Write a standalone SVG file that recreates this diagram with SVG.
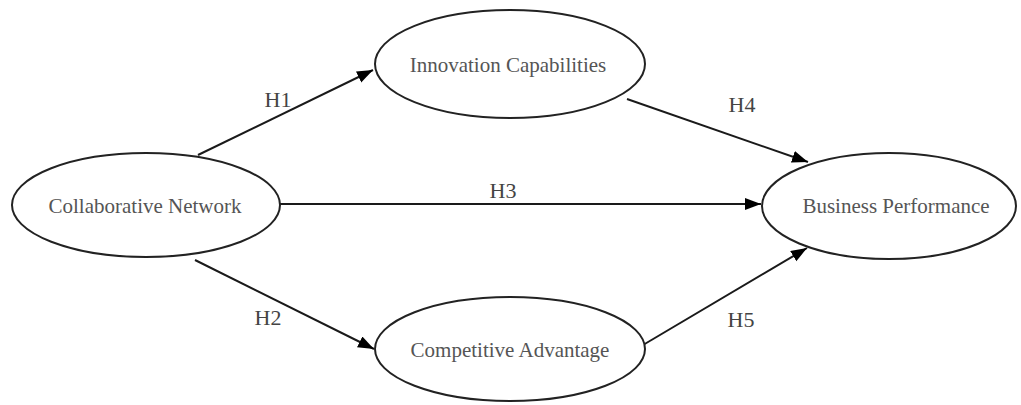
<svg xmlns="http://www.w3.org/2000/svg" width="1021" height="405" viewBox="0 0 1021 405">
<style>
.node ellipse{fill:#fff;stroke:#222;stroke-width:2}
.node text{font-family:"Liberation Serif","Times New Roman",serif;font-size:21px;fill:#555;text-anchor:middle}
.edge{stroke:#1a1a1a;stroke-width:2;fill:none;marker-end:url(#arr)}
.lbl{font-family:"Liberation Serif","Times New Roman",serif;font-size:22px;fill:#444;text-anchor:middle}
</style>
<defs>
<marker id="arr" markerUnits="userSpaceOnUse" markerWidth="18" markerHeight="14" refX="16" refY="6" orient="auto">
<path d="M0,0 L16,6 L0,12 Z" fill="#000"/>
</marker>
</defs>
<rect width="1021" height="405" fill="#fff"/>
<g id="connectors">
<line class="edge" x1="198" y1="155" x2="373" y2="70"/>
<line class="edge" x1="195" y1="260" x2="374" y2="349"/>
<line class="edge" x1="280" y1="204" x2="761" y2="204"/>
<line class="edge" x1="627" y1="99" x2="808" y2="162"/>
<line class="edge" x1="643" y1="345" x2="807" y2="248"/>
<text class="lbl" x="278" y="107">H1</text>
<text class="lbl" x="268" y="325">H2</text>
<text class="lbl" x="503" y="198">H3</text>
<text class="lbl" x="742" y="112">H4</text>
<text class="lbl" x="741" y="327">H5</text>
</g>
<g id="collaborative-network" class="node">
<ellipse cx="146" cy="205" rx="134" ry="52"/>
<text x="145" y="213">Collaborative Network</text>
</g>
<g id="innovation-capabilities" class="node">
<ellipse cx="510" cy="64" rx="135" ry="54"/>
<text x="508" y="72">Innovation Capabilities</text>
</g>
<g id="competitive-advantage" class="node">
<ellipse cx="510" cy="349" rx="135" ry="52"/>
<text x="510" y="357">Competitive Advantage</text>
</g>
<g id="business-performance" class="node">
<ellipse cx="889" cy="206" rx="127" ry="53"/>
<text x="896" y="213">Business Performance</text>
</g>
</svg>
